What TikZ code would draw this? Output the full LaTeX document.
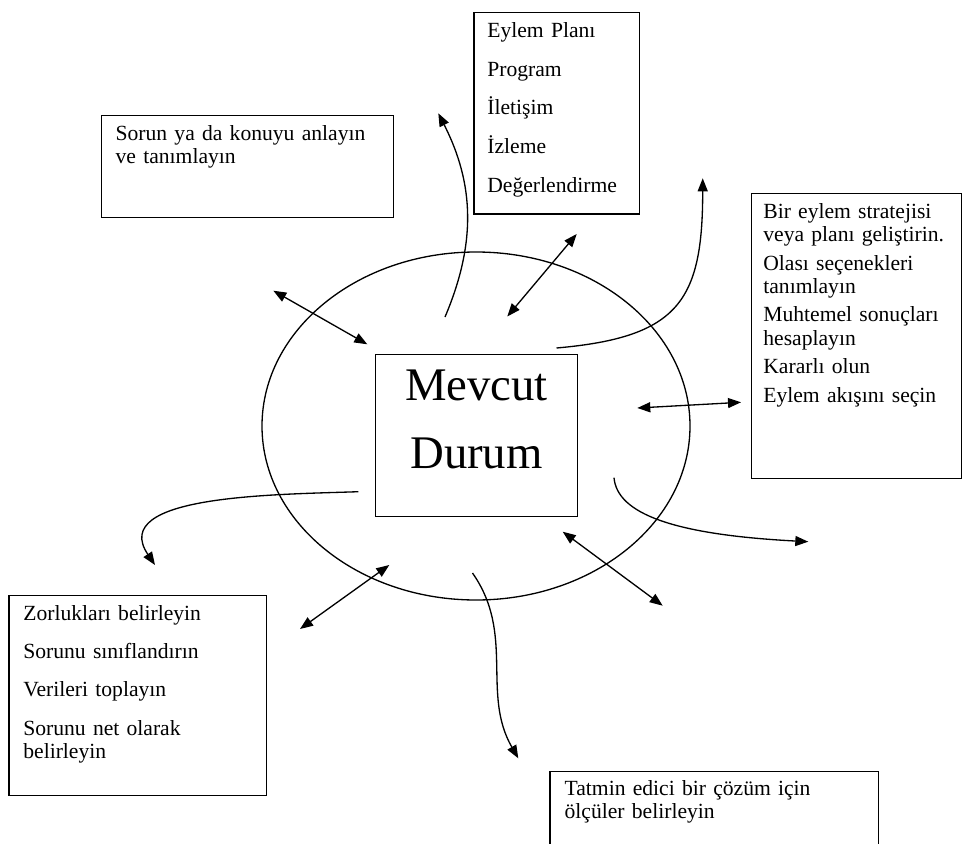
\documentclass[tikz,border=0pt]{standalone}
\usepackage{fontspec}
\setmainfont{Liberation Serif}
\usetikzlibrary{arrows.meta}
\usetikzlibrary{shapes.geometric}
\pgfdeclarelayer{edgelayer}
\pgfdeclarelayer{nodelayer}
\pgfsetlayers{edgelayer,nodelayer,main}
\tikzstyle{none}=[]
\tikzstyle{ring}=[draw, ellipse, line width=0.75pt, minimum width=8.56cm, minimum height=6.96cm, inner sep=0pt]
\tikzstyle{text box}=[draw, rectangle, line width=0.75pt, anchor=north west, align=left, inner ysep=0pt, font={\fontsize{12.3}{13.2}\selectfont}]
\tikzstyle{centre box}=[draw, rectangle, line width=0.75pt, anchor=north west, align=center, inner ysep=0pt, inner xsep=0.2cm, text width=3.634cm, text height=0.92cm, text depth=2.314cm, font={\fontsize{26.6}{38.5}\selectfont}]
\tikzstyle{two way}=[{Triangle[length=2.6mm,width=2mm]}-{Triangle[length=2.6mm,width=2mm]}, line width=0.75pt]
\tikzstyle{one way}=[-{Triangle[length=2.6mm,width=2mm]}, line width=0.75pt]

\begin{document}
\begin{tikzpicture}
	\useasboundingbox (0,0) rectangle (19.26,-16.86);
	\begin{pgfonlayer}{nodelayer}
		\node [style=ring] (0) at (9.52, -8.52) {};
		\node [style=centre box] (1) at (7.5, -7.08) {Mevcut\\Durum};
		\node [style=text box, inner xsep=0.286cm, text width=5.268cm, text height=0.5cm, text depth=1.54cm] (2) at (2.014, -2.3) {Sorun ya da konuyu anlayın\\ve tanımlayın};
		\node [style=text box, inner xsep=0.268cm, text width=2.778cm, text height=0.506cm, text depth=3.526cm] (3) at (9.466, -0.234) {Eylem Planı\\[8.8pt]Program\\[8.8pt]İletişim\\[8.8pt]İzleme\\[8.8pt]Değerlendirme};
		\node [style=text box, inner xsep=0.24cm, text width=3.726cm, text height=0.506cm, text depth=5.2cm] (4) at (15.014, -3.854) {Bir eylem stratejisi\\veya planı geliştirin.\\[3pt]Olası seçenekleri\\tanımlayın\\[3pt]Muhtemel sonuçları\\hesaplayın\\[3pt]Kararlı olun\\[3pt]Eylem akışını seçin};
		\node [style=text box, inner xsep=0.288cm, text width=4.578cm, text height=0.5cm, text depth=3.5cm] (5) at (0.166, -11.9) {Zorlukları belirleyin\\[8.5pt]Sorunu sınıflandırın\\[8.5pt]Verileri toplayın\\[8.5pt]Sorunu net olarak\\belirleyin};
		\node [style=text box, inner xsep=0.294cm, text width=5.98cm, text height=0.486cm, text depth=1.1cm] (6) at (10.986, -15.414) {Tatmin edici bir çözüm için\\ölçüler belirleyin};
		\node [style=none] (7) at (5.466, -5.814) {};
		\node [style=none] (8) at (7.346, -6.886) {};
		\node [style=none] (9) at (11.534, -4.68) {};
		\node [style=none] (10) at (10.146, -6.33) {};
		\node [style=none] (11) at (12.746, -8.16) {};
		\node [style=none] (12) at (14.82, -8.046) {};
		\node [style=none] (13) at (11.254, -10.634) {};
		\node [style=none] (14) at (13.254, -12.114) {};
		\node [style=none] (15) at (7.786, -11.3) {};
		\node [style=none] (16) at (6.0, -12.58) {};
		\node [style=none] (17) at (8.9, -6.34) {};
		\node [style=none] (18) at (8.766, -2.266) {};
		\node [style=none] (19) at (11.13, -6.96) {};
		\node [style=none] (20) at (14.054, -3.566) {};
		\node [style=none] (21) at (7.166, -9.834) {};
		\node [style=none] (22) at (3.1, -11.3) {};
		\node [style=none] (23) at (9.45, -11.46) {};
		\node [style=none] (24) at (10.366, -15.166) {};
		\node [style=none] (25) at (12.28, -9.554) {};
		\node [style=none] (26) at (16.166, -10.834) {};
	\end{pgfonlayer}
	\begin{pgfonlayer}{edgelayer}
		\draw [style=two way] (7.center) to (8.center);
		\draw [style=two way] (9.center) to (10.center);
		\draw [style=two way] (11.center) to (12.center);
		\draw [style=two way] (13.center) to (14.center);
		\draw [style=two way] (15.center) to (16.center);
		\draw [style=one way] (17.center) to [out=67, in=-63] (18.center);
		\draw [style=one way] (19.center) to [out=5, in=-90, looseness=1.4] (20.center);
		\draw [style=one way] (21.center) to [out=182, in=124] (22.center);
		\draw [style=one way] (23.center) to [out=-55, in=120] (24.center);
		\draw [style=one way] (25.center) to [out=-85, in=177, out looseness=0.45, in looseness=1.7] (26.center);
	\end{pgfonlayer}
\end{tikzpicture}
\end{document}
